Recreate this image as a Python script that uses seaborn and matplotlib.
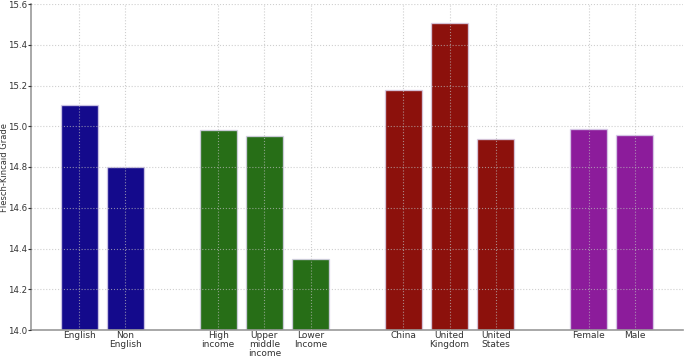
import matplotlib
matplotlib.use("Agg")
import matplotlib.pyplot as plt
import seaborn as sns
import pandas as pd

categories = ["English", "Non\nEnglish", "High\nincome", "Upper\nmiddle\nincome", "Lower\nIncome",
              "China", "United\nKingdom", "United\nStates", "Female", "Male"]
values = [15.105, 14.80, 14.98, 14.952, 14.347, 15.176, 15.507, 14.937, 14.988, 14.955]
groups = ["Language", "Language", "Income", "Income", "Income",
          "Country", "Country", "Country", "Gender", "Gender"]
positions = [0, 1, 3, 4, 5, 7, 8, 9, 11, 12]
palette = {"Language": "#140a8c", "Income": "#276e17", "Country": "#8c110c", "Gender": "#8c1c9b"}

df = pd.DataFrame({"cat": categories, "value": values, "group": groups, "pos": positions})

sns.set_style("white")
plt.rcParams["font.family"] = ["DejaVu Sans"]

fig = plt.figure(figsize=(6.85, 3.57), dpi=100)
ax = fig.add_axes([31 / 685, 27 / 357, 652 / 685, 326 / 357])

sns.barplot(data=df, x="pos", y="value", hue="group", palette=palette, native_scale=True,
            width=0.8, dodge=False, legend=False, ax=ax, saturation=1,
            edgecolor=(0.85, 0.82, 0.92, 0.8), linewidth=1.0)

ax.set_ylim(14.0, 15.6)
ax.set_xlim(-1.04, 13.04)
yt = [14.0, 14.2, 14.4, 14.6, 14.8, 15.0, 15.2, 15.4, 15.6]
ax.set_yticks(yt)
ax.set_yticklabels([f"{v:.1f}" for v in yt])
ax.set_xticks(positions)
ax.set_xticklabels(categories, fontsize=6.5, color="#333333", linespacing=1.0)
ax.tick_params(axis="y", labelsize=6.2, colors="#333333", length=2, width=0.8, direction="out", left=True, pad=1)
ax.tick_params(axis="x", length=0, pad=0.5)
ax.set_xlabel("")
ax.set_ylabel("Flesch-Kincaid Grade", fontsize=6, color="#333333")
ax.yaxis.set_label_coords(-0.0345, 0.5)

ax.set_axisbelow(False)
ax.grid(True, color="#bbbbbb", linestyle=":", linewidth=0.8, alpha=0.7)
for s in ["top", "right"]:
    ax.spines[s].set_visible(False)
for s in ["left", "bottom"]:
    ax.spines[s].set_color("#999999")
    ax.spines[s].set_linewidth(1.2)

fig.savefig("out.png", dpi=100)
